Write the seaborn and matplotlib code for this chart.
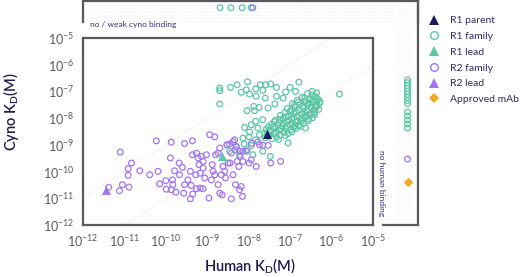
import numpy as np
import pandas as pd
import matplotlib
matplotlib.use("Agg")
import matplotlib.pyplot as plt
import seaborn as sns
from matplotlib.lines import Line2D
from matplotlib.ticker import LogFormatterSciNotation, NullLocator

# ---------------- data (log10 of KD in M) ----------------
# R1 family: scattered members
r1_scatter_log_human = [
    -8.70, -8.70, -8.44, -8.28, -8.03, -8.18, -8.06, -7.98, -7.83, -7.72, -7.59, -7.47, -7.33, -7.66,
    -7.82, -7.60, -7.11, -7.00, -6.79, -6.87, -6.47, -5.81, -8.70, -8.04, -7.88, -7.75, -7.86, -7.53,
    -7.37, -7.33, -7.17, -8.10, -7.83, -7.66, -7.98, -8.14, -7.83, -7.94, -7.66, -7.48, -7.05, -8.52,
    -8.46, -8.22, -8.04, -7.90, -7.99, -8.11, -8.30, -7.94, -7.78, -7.74, -6.37, -6.35, -6.41, -6.77,
    -6.65, -6.53, -6.63,
]
r1_scatter_log_cyno = [
    -6.87, -6.97, -6.85, -6.75, -6.64, -7.03, -6.94, -7.10, -6.90, -6.75, -6.75, -6.72, -6.85, -6.96,
    -7.18, -7.25, -7.02, -6.85, -6.65, -7.00, -7.00, -7.10, -7.47, -7.72, -7.56, -7.60, -7.72, -7.62,
    -7.47, -7.18, -7.25, -8.35, -8.12, -8.06, -8.52, -8.75, -8.81, -9.02, -9.24, -9.43, -8.93, -9.00,
    -9.24, -9.37, -9.18, -9.37, -8.70, -8.97, -9.09, -8.25, -8.37, -8.62, -7.60, -7.37, -7.87, -8.31,
    -7.37, -7.31, -8.37,
]
# R1 family: dense main cluster
r1_cluster_log_human = [
    -6.58, -6.47, -6.39, -6.71, -6.52, -6.33, -6.83, -6.62, -6.44, -6.29, -6.95, -6.76, -6.57, -6.38,
    -6.88, -6.68, -6.49, -7.07, -6.31, -6.97, -6.79, -6.59, -6.41, -7.13, -6.91, -6.72, -6.53, -7.24,
    -7.03, -6.84, -6.63, -6.46, -7.17, -6.95, -6.75, -7.36, -6.57, -7.08, -6.87, -7.27, -6.68, -7.45,
    -7.01, -6.80, -7.19, -7.53, -6.92, -7.35, -7.11, -7.58, -6.99, -7.28, -7.46, -7.15, -7.62, -7.38,
    -7.24, -7.51, -7.33, -7.44, -7.60, -7.05,
    -6.65, -6.45, -6.80, -6.55, -6.36, -6.90, -6.70, -6.50, -7.00, -6.85, -6.65, -6.48, -7.10, -6.92,
    -6.72, -6.55, -7.25, -7.02, -6.82, -7.38, -7.15, -6.95, -7.30, -7.08, -6.88, -7.42, -7.22, -7.50,
    -7.35, -7.55, -6.36, -6.28, -6.42, -6.62, -6.73, -6.86, -6.96, -7.12, -7.28,
]
r1_cluster_log_cyno = [
    -7.08, -7.13, -7.19, -7.22, -7.27, -7.29, -7.33, -7.36, -7.41, -7.44, -7.46, -7.49, -7.51, -7.55,
    -7.58, -7.61, -7.63, -7.64, -7.67, -7.69, -7.72, -7.74, -7.78, -7.79, -7.82, -7.85, -7.87, -7.90,
    -7.92, -7.94, -7.97, -7.99, -8.01, -8.04, -8.06, -8.08, -8.10, -8.12, -8.15, -8.17, -8.20, -8.22,
    -8.24, -8.27, -8.29, -8.32, -8.34, -8.36, -8.39, -8.42, -8.44, -8.47, -8.50, -8.53, -8.56, -8.58,
    -8.63, -8.66, -8.71, -8.77, -8.74, -8.58,
    -7.25, -7.32, -7.40, -7.45, -7.50, -7.52, -7.55, -7.58, -7.75, -7.78, -7.80, -7.83, -7.95, -7.98,
    -8.00, -8.03, -8.05, -8.08, -8.10, -8.14, -8.18, -8.20, -8.25, -8.30, -8.28, -8.34, -8.40, -8.45,
    -8.52, -8.60, -7.05, -7.38, -7.68, -7.90, -8.13, -8.38, -8.52, -8.66, -8.80,
]
r2_family_log_human = [
    -11.10, -10.83, -10.91, -10.91, -10.63, -11.05, -11.12, -10.89, -11.38, -10.39, -10.23, -10.19,
    -10.15, -10.00, -9.99, -9.87, -9.89, -9.84, -9.83, -9.87, -9.76, -9.79, -9.68, -9.60, -9.67,
    -9.57, -9.55, -9.55, -9.47, -9.41, -9.36, -9.36, -9.39, -9.41, -9.35, -9.26, -9.22, -9.20, -9.14,
    -9.28, -9.26, -9.17, -9.10, -9.10, -9.17, -9.10, -9.06, -9.02, -8.96, -8.94, -8.82, -8.88, -8.90,
    -8.86, -8.80, -8.74, -8.70, -8.74, -8.70, -8.64, -8.66, -8.62, -8.58, -8.56, -8.50, -8.46, -8.38,
    -8.34, -8.32, -8.28, -8.24, -8.22, -8.18, -8.15, -8.14, -8.42, -8.06, -7.99, -7.94, -7.82, -7.74,
    -7.53, -7.47, -7.23, -8.22, -8.30, -8.42, -8.82, -8.53, -8.38, -8.33, -8.45, -8.21, -8.14, -7.93,
    -7.78, -7.66,
]
r2_family_log_cyno = [
    -9.27, -9.68, -9.89, -10.14, -9.97, -10.49, -10.72, -10.58, -10.59, -10.12, -8.85, -9.99,
    -10.46, -10.34, -10.66, -8.90, -9.49, -10.31, -10.49, -10.68, -10.77, -9.97, -9.68, -9.84, -10.12,
    -10.81, -8.95, -10.49, -10.31, -9.99, -8.85, -9.37, -10.52, -11.02, -10.84, -9.31, -9.49, -9.74,
    -9.43, -10.12, -10.64, -10.62, -10.64, -9.87, -10.06, -9.62, -10.24, -9.37, -10.99, -8.62, -8.70,
    -9.74, -10.31, -9.99, -9.37, -9.31, -9.12, -10.49, -10.81, -10.87, -10.12, -9.81, -9.99, -10.24,
    -9.68, -8.97, -10.12, -8.81, -10.49, -9.62, -9.81, -10.68, -10.56, -10.93, -9.62, -11.02, -9.24,
    -9.68, -9.56, -9.81, -9.00, -9.02, -9.68, -9.62, -9.24, -9.06, -9.31, -10.12, -9.00, -8.88, -9.18,
    -9.68, -9.44, -9.24, -8.94, -8.89, -9.01,
]

r1_parent = (-7.56, -8.60)
r1_lead = (-8.64, -9.43)
r2_lead = (-11.45, -10.68)

# no / weak cyno binding (human KD only)
nocyno_r1_log_human = [-8.69, -8.43, -8.16, -7.94]
nocyno_r2_log_human = [-7.90]
# no human binding (cyno KD only)
nohuman_r1_log_cyno = [-6.57, -6.67, -6.78, -6.89, -7.00, -7.11, -7.22, -7.34, -7.45,
                       -7.77, -7.92, -8.07, -8.22, -8.37]
nohuman_r2_log_cyno = [-9.53]
approved_log_cyno = [-10.39]

ticks = [1e-12, 1e-11, 1e-10, 1e-9, 1e-8, 1e-7, 1e-6, 1e-5]

# ---------------- style ----------------
TEAL = "#5cc6a5"
PURPLE = "#a274f4"
NAVY = "#1d1a5c"
ORANGE = "#f5a623"
SPINE = "#58585e"
TEXT = "#1f1c4d"

sns.set_style("white")
plt.rcParams["font.family"] = ["Lato", "DejaVu Sans"]
plt.rcParams["mathtext.default"] = "regular"

W, H = 520, 277
fig = plt.figure(figsize=(W / 100, H / 100), dpi=100)

# main axes
ax = fig.add_axes([83 / W, 1 - 225 / H, 290 / W, 187 / H])
ax.set_xscale("log")
ax.set_yscale("log")
ax.set_xlim(1e-12, 1e-5)
ax.set_ylim(1e-12, 1e-5)

# diagonal guide lines (10-fold)
for f in (10.0, 0.1):
    ax.plot([1e-14, 1e-3], [1e-14 * f, 1e-3 * f], color="#d9d9d9", lw=0.7, ls=(0, (1, 2)), zorder=1)

df_r1 = pd.DataFrame({"human": 10.0 ** np.array(r1_scatter_log_human + r1_cluster_log_human),
                      "cyno": 10.0 ** np.array(r1_scatter_log_cyno + r1_cluster_log_cyno)})
df_r2 = pd.DataFrame({"human": 10.0 ** np.array(r2_family_log_human),
                      "cyno": 10.0 ** np.array(r2_family_log_cyno)})

circ = dict(marker="o", s=17, fc="none", linewidth=0.9, legend=False)
sns.scatterplot(data=df_r1, x="human", y="cyno", ax=ax, ec=TEAL, zorder=3, **circ)
sns.scatterplot(data=df_r2, x="human", y="cyno", ax=ax, ec=PURPLE, zorder=4, **circ)

tri = dict(marker="^", s=42, linewidth=0, legend=False, zorder=6)
sns.scatterplot(x=[10 ** r1_lead[0]], y=[10 ** r1_lead[1]], ax=ax, color=TEAL, **tri)
sns.scatterplot(x=[10 ** r2_lead[0]], y=[10 ** r2_lead[1]], ax=ax, color=PURPLE, **tri)
sns.scatterplot(x=[10 ** r1_parent[0]], y=[10 ** r1_parent[1]], ax=ax, color=NAVY, **tri)

ax.set_xticks(ticks)
ax.set_yticks(ticks)
ax.xaxis.set_minor_locator(NullLocator())
ax.yaxis.set_minor_locator(NullLocator())
ax.xaxis.set_major_formatter(LogFormatterSciNotation())
ax.yaxis.set_major_formatter(LogFormatterSciNotation())
ax.tick_params(length=0, labelsize=9, colors="#5a5a5a", pad=6)
ax.set_xlabel("")
ax.set_ylabel("")
for s in ax.spines.values():
    s.set_visible(True)
    s.set_color(SPINE)
    s.set_linewidth(1.6)

# top panel (no / weak cyno binding)
axt = fig.add_axes([83 / W, 1 - 22 / H, 335 / W, 21 / H])
axt.set_xscale("log")
axt.set_xlim(1e-12, 10 ** (-12 + 335 / 41.43))
axt.set_ylim(0, 1)
axt.set_facecolor("none")
sns.scatterplot(x=10.0 ** np.array(nocyno_r1_log_human), y=[0.68] * len(nocyno_r1_log_human),
                ax=axt, ec=TEAL, **circ)
sns.scatterplot(x=10.0 ** np.array(nocyno_r2_log_human), y=[0.68] * len(nocyno_r2_log_human),
                ax=axt, ec=PURPLE, **circ)
axt.set_xticks([]); axt.set_yticks([])
axt.xaxis.set_minor_locator(NullLocator())
axt.set_xlabel(""); axt.set_ylabel("")
for k, s in axt.spines.items():
    s.set_color(SPINE); s.set_linewidth(1.6)
    s.set_visible(k != "bottom")

# right panel (no human binding)
axr = fig.add_axes([383 / W, 1 - 225 / H, 35 / W, 224 / H])
axr.set_yscale("log")
axr.set_ylim(1e-12, 10 ** (-12 + 224 / 26.71))
axr.set_xlim(0, 1)
axr.set_facecolor("none")
sns.scatterplot(x=[0.7] * len(nohuman_r1_log_cyno), y=10.0 ** np.array(nohuman_r1_log_cyno),
                ax=axr, ec=TEAL, **circ)
sns.scatterplot(x=[0.7] * len(nohuman_r2_log_cyno), y=10.0 ** np.array(nohuman_r2_log_cyno),
                ax=axr, ec=PURPLE, **circ)
sns.scatterplot(x=[0.7] * len(approved_log_cyno), y=10.0 ** np.array(approved_log_cyno),
                ax=axr, color=ORANGE, marker="D", s=22, linewidth=0, legend=False)
axr.set_xticks([]); axr.set_yticks([])
axr.yaxis.set_minor_locator(NullLocator())
axr.set_xlabel(""); axr.set_ylabel("")
for k, s in axr.spines.items():
    s.set_color(SPINE); s.set_linewidth(1.6)
    s.set_visible(k in ("right", "bottom"))

# faint dotted grids in side panels
for yy in np.linspace(0.05, 0.95, 7):
    axt.axhline(yy, color="#ececec", lw=0.5, ls=(0, (1, 1.5)), zorder=0)
for xx in np.linspace(0.45, 0.95, 5):
    axr.axvline(xx, color="#ececec", lw=0.5, ls=(0, (1, 1.5)), zorder=0)

# annotations
fig.text(90 / W, 1 - 25 / H, "no / weak cyno binding", fontsize=6, color="#3b2f7c",
         ha="left", va="center")
fig.text(382 / W, 1 - 183 / H, "no human binding", fontsize=6, color="#3b2f7c",
         ha="center", va="center", rotation=270)

fig.text(250 / W, 1 - 266 / H, "Human K$_D$(M)", fontsize=10.5, color=TEXT,
         ha="center", va="center", fontweight="semibold")
fig.text(11 / W, 1 - 112 / H, "Cyno K$_D$(M)", fontsize=10.5, color=TEXT,
         ha="center", va="center", rotation=90, fontweight="semibold")

# legend
handles = [
    Line2D([], [], ls="none", marker="^", ms=7, color=NAVY, mew=0),
    Line2D([], [], ls="none", marker="o", ms=5.5, mfc="none", mec=TEAL, mew=1.0),
    Line2D([], [], ls="none", marker="^", ms=7, color=TEAL, mew=0),
    Line2D([], [], ls="none", marker="o", ms=5.5, mfc="none", mec=PURPLE, mew=1.0),
    Line2D([], [], ls="none", marker="^", ms=7, color=PURPLE, mew=0),
    Line2D([], [], ls="none", marker="D", ms=5, color=ORANGE, mew=0),
]
labels = ["R1 parent", "R1 family", "R1 lead", "R2 family", "R2 lead", "Approved mAb"]
leg = fig.legend(handles, labels, loc="upper left", bbox_to_anchor=(428 / W, 1 - 16 / H),
                 frameon=False, fontsize=7.5, handlelength=1.2, handletextpad=0.9,
                 labelspacing=0.62, borderaxespad=0, borderpad=0)
for t in leg.get_texts():
    t.set_color("#2e2a5e")

fig.savefig("out.png", dpi=100)
